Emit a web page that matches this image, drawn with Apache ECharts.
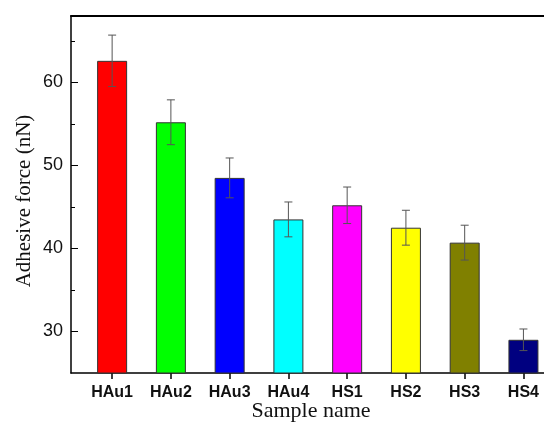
<!DOCTYPE html>
<html>
<head>
<meta charset="utf-8">
<script src="https://cdn.jsdelivr.net/npm/echarts@6/dist/echarts.min.js"></script>
<style>
  html, body { margin: 0; padding: 0; background: #fff; }
  #chart { width: 544px; height: 424px; }
</style>
</head>
<body>
<div id="chart"></div>
<script>
// Sample names and measured adhesive force (nN) with standard deviations
const samples = ['HAu1', 'HAu2', 'HAu3', 'HAu4', 'HS1', 'HS2', 'HS3', 'HS4'];
const meanForce = [62.6, 55.2, 48.5, 43.5, 45.2, 42.5, 40.7, 29.0];
const stdDev = [3.1, 2.7, 2.4, 2.1, 2.2, 2.1, 2.1, 1.3];
const barColors = ['#ff0000', '#00ff00', '#0000ff', '#00ffff', '#ff00ff', '#ffff00', '#808000', '#000080'];
const yMajorTicks = [30, 40, 50, 60];
const yMinorTicks = [35, 45, 55, 65];

const positions = samples.map((_, i) => i + 1);

const chart = echarts.init(document.getElementById('chart'), null, { renderer: 'canvas' });

const barData = meanForce.map((v, i) => ({
  value: [positions[i], v],
  itemStyle: { color: barColors[i] }
}));

const errData = meanForce.map((v, i) => [positions[i], v - stdDev[i], v + stdDev[i]]);

chart.setOption({
  animation: false,
  backgroundColor: '#ffffff',
  grid: { left: 71, right: 0, top: 16, bottom: 51, containLabel: false },
  xAxis: [{
    type: 'value',
    min: 0.3,
    max: 8.35,
    axisLine: { show: true, lineStyle: { color: '#000', width: 1.5 } },
    axisTick: { show: true, inside: false, length: 6, customValues: positions, lineStyle: { color: '#000', width: 1.5 } },
    axisLabel: {
      customValues: positions,
      formatter: v => samples[Math.round(v) - 1] || '',
      color: '#111',
      fontFamily: 'Liberation Sans, Arial, sans-serif',
      fontWeight: 'bold',
      fontSize: 16,
      margin: 12
    },
    splitLine: { show: false }
  }, {
    type: 'value',
    position: 'top',
    min: 0.3,
    max: 8.35,
    axisLine: { show: true, lineStyle: { color: '#000', width: 2 } },
    axisTick: { show: false },
    axisLabel: { show: false },
    splitLine: { show: false }
  }],
  yAxis: [{
    type: 'value',
    min: 25,
    max: 68,
    axisLine: { show: true, lineStyle: { color: '#000', width: 1.5 } },
    axisTick: { show: true, inside: true, length: 7, customValues: yMajorTicks, lineStyle: { color: '#000', width: 1 } },
    axisLabel: {
      customValues: yMajorTicks,
      color: '#111',
      fontFamily: 'Liberation Sans, Arial, sans-serif',
      fontSize: 18,
      margin: 8
    },
    splitLine: { show: false }
  }, {
    type: 'value',
    position: 'left',
    min: 25,
    max: 68,
    axisLine: { show: false },
    axisTick: { show: true, inside: true, length: 4, customValues: yMinorTicks, lineStyle: { color: '#000', width: 1 } },
    axisLabel: { show: false },
    splitLine: { show: false }
  }],
  graphic: [{
    type: 'text',
    left: 'center',
    style: {
      text: 'Adhesive force (nN)',
      font: '21px "Liberation Serif", "Times New Roman", serif',
      fill: '#111',
      align: 'center',
      verticalAlign: 'middle'
    },
    x: 24,
    y: 201,
    rotation: Math.PI / 2,
    left: null
  }, {
    type: 'text',
    style: {
      text: 'Sample name',
      font: '22px "Liberation Serif", "Times New Roman", serif',
      fill: '#111',
      align: 'center',
      verticalAlign: 'middle'
    },
    x: 311,
    y: 411
  }],
  series: [{
    type: 'bar',
    xAxisIndex: 0,
    yAxisIndex: 0,
    barWidth: 30,
    data: barData,
    itemStyle: { borderColor: '#333', borderWidth: 1 },
    z: 2
  }, {
    type: 'custom',
    xAxisIndex: 0,
    yAxisIndex: 0,
    data: errData,
    z: 3,
    renderItem: function (params, api) {
      const x = api.value(0);
      const lo = api.coord([x, api.value(1)]);
      const hi = api.coord([x, api.value(2)]);
      const cap = 4;
      const style = { stroke: '#555', lineWidth: 1 };
      return {
        type: 'group',
        children: [
          { type: 'line', shape: { x1: lo[0], y1: lo[1], x2: hi[0], y2: hi[1] }, style },
          { type: 'line', shape: { x1: hi[0] - cap, y1: hi[1], x2: hi[0] + cap, y2: hi[1] }, style },
          { type: 'line', shape: { x1: lo[0] - cap, y1: lo[1], x2: lo[0] + cap, y2: lo[1] }, style }
        ]
      };
    }
  }]
});
</script>
</body>
</html>
